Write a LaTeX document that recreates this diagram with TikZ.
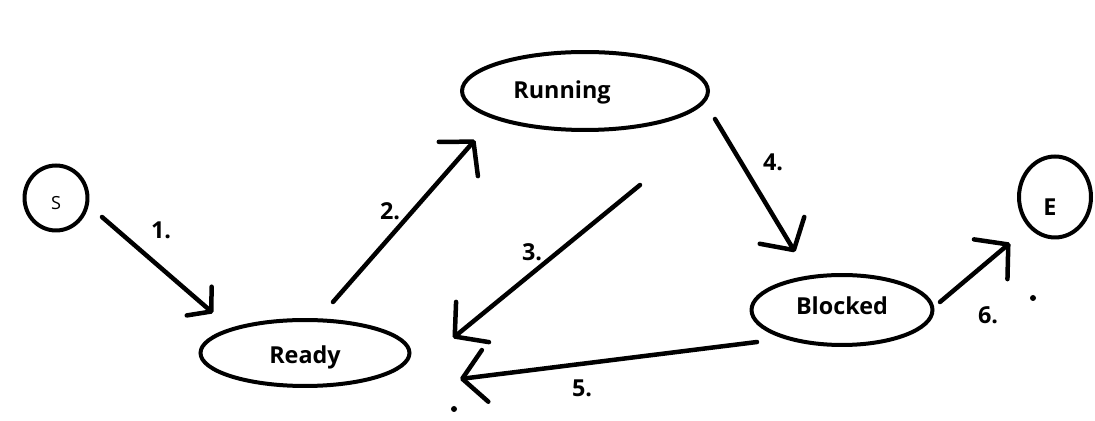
\documentclass[tikz,border=0pt]{standalone}
\usepackage{fontspec}
\setmainfont{Open Sans}
\usetikzlibrary{shapes.geometric,arrows.meta}
\newcommand\statefont{\fontsize{13.3pt}{16pt}\selectfont\bfseries}
\tikzset{
  snode/.style={ellipse,draw=black,line width=0.08cm,fill=white,
                font=\statefont,inner sep=0pt},
  sterm/.style={snode},
  sedge/.style={-{Straight Barb[length=0.46cm,width=1.04cm,round]},
                black,line width=0.09cm,line cap=round},
  snum/.style={font=\statefont},
}

\begin{document}
\begin{tikzpicture}[x=0.02cm,y=-0.02cm]
    \useasboundingbox (0,0) rectangle (1095,421);
    % states
    \node[sterm,minimum width=1.26cm,minimum height=1.3cm,
          font=\fontsize{10.3pt}{12pt}\selectfont] (s) at (56,198)
          {\raisebox{-0.24cm}[0pt][0pt]{S}};
    \node[snode,minimum width=4.18cm,minimum height=1.32cm] (ready) at (305,353)
          {\raisebox{-0.21cm}[0pt][0pt]{Ready}};
    \node[snode,minimum width=4.92cm,minimum height=1.56cm] (running) at (585,91)
          {\raisebox{-0.15cm}[0pt][0pt]{Running}\rule{0.92cm}{0pt}};
    \node[snode,minimum width=3.62cm,minimum height=1.4cm] (blocked) at (842,310)
          {\raisebox{-0.09cm}[0pt][0pt]{Blocked}};
    \node[sterm,minimum width=1.44cm,minimum height=1.62cm] (e) at (1055,197)
          {\raisebox{-0.37cm}[0pt][0pt]{E}\rule{0.2cm}{0pt}};
    % arrow ends
    \coordinate (t1a) at (102,217);  \coordinate (t1b) at (213,313);
    \coordinate (t2a) at (333,302);  \coordinate (t2b) at (475,140);
    \coordinate (t3a) at (640,185);  \coordinate (t3b) at (453,338);
    \coordinate (t4a) at (715,119);  \coordinate (t4b) at (795,252);
    \coordinate (t5a) at (757,342);  \coordinate (t5b) at (460,379);
    \coordinate (t6a) at (940,302);  \coordinate (t6b) at (1010,243);
    % transitions
    \draw[sedge,-{Straight Barb[length=0.32cm,width=0.76cm,round]}] (t1a) -- (t1b);
    \draw[sedge] (t2a) -- (t2b);
    \draw[sedge] (t3a) -- (t3b);
    \draw[sedge] (t4a) -- (t4b);
    \draw[sedge] (t5a) -- (t5b);
    \draw[sedge] (t6a) -- (t6b);
    \node[snum] (n1) at (161,230) {1.};
    \node[snum] (n2) at (390,211) {2.};
    \node[snum] (n3) at (532,252) {3.};
    \node[snum] (n4) at (773,162) {4.};
    \node[snum] (n5) at (582,388) {5.};
    \node[snum] (n6) at (988,315) {6.};
    % stray dots
    \fill (454,409) circle (0.06cm);
    \fill (1033,298) circle (0.06cm);
\end{tikzpicture}
\end{document}
